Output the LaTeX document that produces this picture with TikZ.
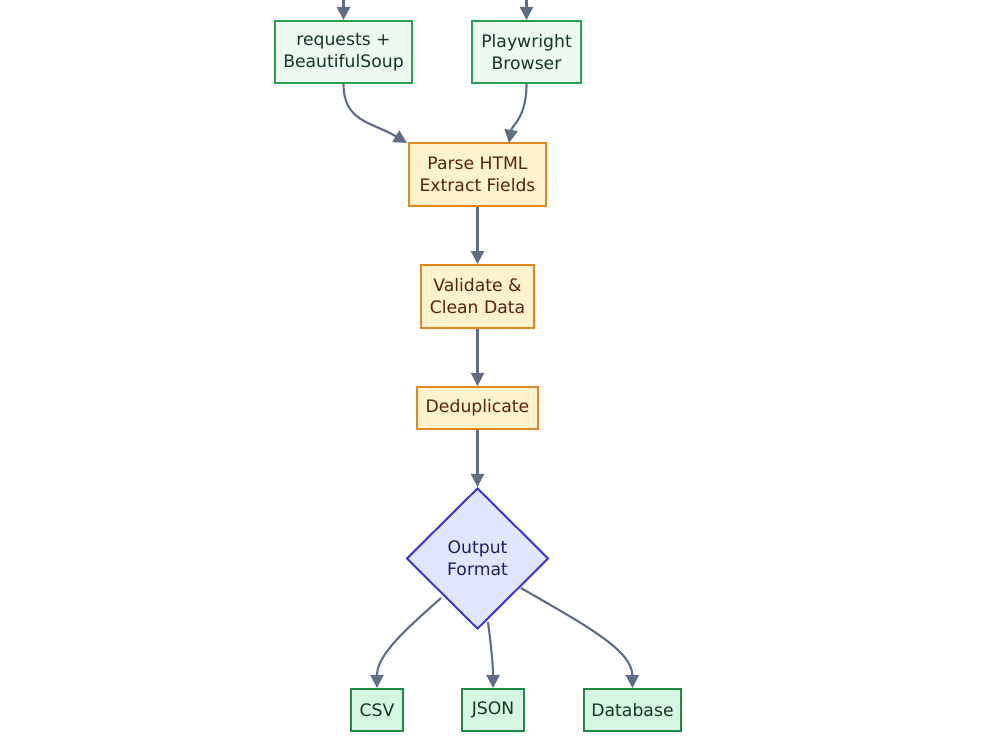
\documentclass[tikz,border=0pt]{standalone}
\usepackage{fontspec}
\setmainfont{DejaVu Sans}
\usetikzlibrary{shapes.geometric,arrows.meta}
\definecolor{gfill}{RGB}{236,250,242}
\definecolor{gdraw}{RGB}{40,160,80}
\definecolor{gtext}{RGB}{20,55,35}
\definecolor{ofill}{RGB}{255,242,204}
\definecolor{odraw}{RGB}{226,134,30}
\definecolor{otext}{RGB}{90,35,15}
\definecolor{dfill}{RGB}{226,229,255}
\definecolor{ddraw}{RGB}{55,50,220}
\definecolor{dtext}{RGB}{30,30,100}
\definecolor{bfill}{RGB}{214,246,228}
\definecolor{bdraw}{RGB}{30,140,70}
\definecolor{edge}{RGB}{95,110,135}
\tikzset{
  base/.style={rectangle, inner sep=0pt, line width=1.1pt, align=center, font=\fontsize{9.8}{12.5}\selectfont},
  gbox/.style={base, fill=gfill, draw=gdraw, text=gtext},
  obox/.style={base, fill=ofill, draw=odraw, text=otext},
  bbox/.style={base, fill=bfill, draw=bdraw, text=gtext},
  dec/.style={diamond, inner sep=0pt, line width=1.1pt, align=center, fill=dfill, draw=ddraw, text=dtext, font=\fontsize{9.8}{12.5}\selectfont, minimum width=2.84cm, minimum height=2.82cm},
  conn/.style={draw=edge, line width=1.2pt, -{Triangle[length=7.5pt,width=7.5pt]}}
}
\begin{document}
\begin{tikzpicture}[x=0.02cm,y=-0.02cm]
\useasboundingbox (0,0) rectangle (1000,750);
\node[gbox, minimum width=2.74cm, minimum height=1.24cm] (req) at (343.5,52) {requests +\\BeautifulSoup};
\node[gbox, minimum width=2.18cm, minimum height=1.24cm] (pw) at (526.5,52) {Playwright\\Browser};
\node[obox, minimum width=2.74cm, minimum height=1.26cm] (parse) at (477.5,174.5) {Parse HTML\\Extract Fields};
\node[obox, minimum width=2.26cm, minimum height=1.26cm] (val) at (477.5,296.5) {Validate \&\\Clean Data};
\node[obox, minimum width=2.42cm, minimum height=0.84cm] (dedup) at (477.5,408) {Deduplicate};
\node[dec] (out) at (477.5,558.5) {Output\\Format};
\node[bbox, minimum width=1.04cm, minimum height=0.84cm] (csv) at (377,710) {CSV};
\node[bbox, minimum width=1.24cm, minimum height=0.84cm] (json) at (493,710) {JSON};
\node[bbox, minimum width=1.94cm, minimum height=0.84cm] (db) at (632.5,710) {Database};
\coordinate (inA) at (343.5,0);
\coordinate (inB) at (526.5,0);
\coordinate (pA) at (407,143);
\coordinate (pB) at (509,143);
\coordinate (o1) at (441,598);
\coordinate (o2) at (488,622);
\coordinate (o3) at (521,588);
\draw[conn] (inA) -- (req.north);
\draw[conn] (inB) -- (pw.north);
\draw[conn] (req.south) .. controls (343.5,122) and (372,122) .. (pA);
\draw[conn] (pw.south) .. controls (526.5,118) and (512,125) .. (pB);
\draw[conn] (parse.south) -- (val.north);
\draw[conn] (val.south) -- (dedup.north);
\draw[conn] (dedup.south) -- (out.north);
\draw[conn] (o1) .. controls (405,630) and (377,655) .. (csv.north);
\draw[conn] (o2) .. controls (491,645) and (493,665) .. (json.north);
\draw[conn] (o3) .. controls (585,625) and (632,650) .. (db.north);
\end{tikzpicture}
\end{document}
